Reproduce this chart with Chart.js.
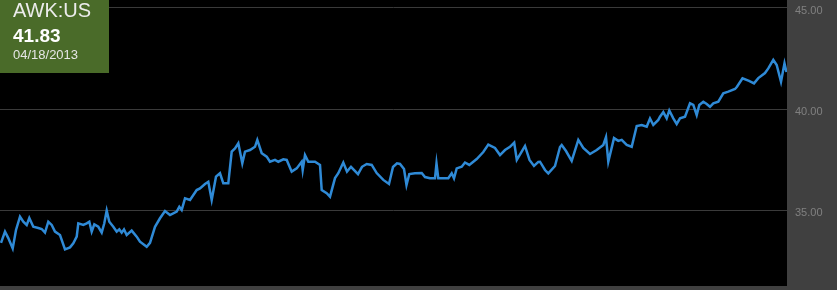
<!DOCTYPE html>
<html>
<head>
<meta charset="utf-8">
<script src="https://cdn.jsdelivr.net/npm/chart.js@4"></script>
<style>
  html, body { margin: 0; padding: 0; background: #404040; }
  #wrap { width: 837px; height: 290px; }
</style>
</head>
<body>
<div id="wrap"><canvas id="awk-chart" width="837" height="290"></canvas></div>
<script>
// time position of each sample along the year (trading session scale)
var sessions = [1,5,8.3,12.7,16,20,23.3,26.7,29.3,33.3,38.3,41.7,45,48.3,51.7,55,60,65,70,73.3,
  76.7,78.3,83.3,86.7,89.3,91.7,94.3,98.3,101.7,104.3,106.7,109.3,113.3,116.7,119.3,121.7,124,126.7,131.7,136.7,
  140,146.7,150,155,160,165,170,176.7,179.3,181.7,185,190,196.7,200,205,208.3,211.7,216,220,223.3,
  228.3,231.7,235,238.3,242.3,245,250,255,257.3,261.7,266.7,270,275,278.3,283.3,286.7,291.7,296.7,301.7,302.7,
  305,308.3,315,320,321.7,326.7,330,335,338.3,343.3,347,351,358,362,366.7,371.7,376.7,383.3,389,393,
  397,400,404,406.5,409.3,415,421.7,425,430,435,436.5,438.3,443.3,448.3,451.7,454,456.7,461.7,465,469.3,
  476.7,483.3,488.3,495,500,505,510,514.2,516.8,521.7,525,529.5,534,538.3,540,545,548.3,555,560,561.7,
  566,571.7,578.3,583.3,590,596.7,603.3,606,608.3,614,618.3,621.7,626.7,631.7,636.7,641.7,646.7,650,653.3,658.3,
  660,663.3,666.7,669.3,673.3,676.7,680,685,690,693.3,696.7,699.3,703.3,706.7,710,713.3,718.3,723.3,728.3,735,
  737,742.5,749,754,758.3,765,768.3,773.3,776.7,781,784.5,786.5];

var prices = [33.37,33.93,33.61,33.10,34.01,34.67,34.42,34.26,34.60,34.17,34.11,34.06,33.88,34.42,34.26,33.93,33.76,33.05,33.15,33.35,
  33.68,34.34,34.26,34.34,34.42,33.93,34.29,34.17,33.88,34.34,34.97,34.42,34.17,33.93,34.04,33.88,34.04,33.76,33.98,33.68,
  33.43,33.18,33.37,34.17,34.59,34.95,34.75,34.92,35.16,35.00,35.58,35.50,35.99,36.07,36.29,36.40,35.50,36.65,36.82,36.32,
  36.32,37.89,38.05,38.30,37.31,37.89,37.97,38.13,38.47,37.81,37.64,37.39,37.48,37.39,37.51,37.48,36.90,37.06,37.39,36.98,
  37.72,37.39,37.39,37.23,35.99,35.83,35.66,36.58,36.82,37.35,36.90,37.14,36.78,37.14,37.28,37.23,36.83,36.49,36.29,37.13,
  37.31,37.28,37.03,36.24,36.78,36.82,36.83,36.63,36.57,36.57,37.31,36.57,36.57,36.57,36.82,36.57,37.06,37.14,37.35,37.23,
  37.52,37.87,38.24,38.07,37.72,37.97,38.13,38.34,37.48,37.89,38.17,37.48,37.18,37.38,37.39,36.98,36.81,37.18,38.12,38.22,
  37.92,37.43,38.47,38.07,37.77,37.97,38.22,38.61,37.39,38.56,38.42,38.47,38.22,38.13,39.16,39.21,39.12,39.53,39.21,39.46,
  39.62,39.85,39.54,39.93,39.54,39.26,39.54,39.62,40.28,40.20,39.70,40.20,40.36,40.25,40.11,40.28,40.36,40.78,40.86,40.99,
  41.10,41.52,41.39,41.27,41.53,41.78,42.01,42.43,42.18,41.35,42.26,41.83];

var yTicks = [35, 40, 45];
var ticker = "AWK:US";
var lastPrice = "41.83";
var lastDate = "04/18/2013";

var points = sessions.map(function (t, i) { return { x: t, y: prices[i] }; });

var panelBg = {
  id: "panelBg",
  beforeDraw: function (chart) {
    var c = chart.ctx, a = chart.chartArea;
    c.save();
    c.fillStyle = "#404040";
    c.fillRect(0, 0, chart.width, chart.height);
    c.fillStyle = "#000000";
    c.fillRect(a.left, a.top, a.right - a.left, a.bottom - a.top);
    c.restore();
  },
  afterDraw: function (chart) {
    var c = chart.ctx;
    c.save();
    c.fillStyle = "#4a6b29";
    c.fillRect(0, 0, 109, 73);
    c.fillStyle = "#ececec";
    c.textBaseline = "alphabetic";
    c.font = "20px 'Liberation Sans', Arial, sans-serif";
    c.fillText(ticker, 13, 17);
    c.fillStyle = "#ffffff";
    c.font = "bold 19px 'Liberation Sans', Arial, sans-serif";
    c.fillText(lastPrice, 13, 42);
    c.fillStyle = "#e6e6e6";
    c.font = "13px 'Liberation Sans', Arial, sans-serif";
    c.fillText(lastDate, 13, 59);
    c.restore();
  }
};

var config = {
  type: "line",
  data: {
    datasets: [
      {
        label: ticker,
        data: points,
        borderColor: "#2f8ad6",
        borderWidth: 2.5,
        pointRadius: 0,
        tension: 0,
        fill: false
      }
    ]
  },
  options: {
    responsive: false,
    animation: false,
    layout: { padding: { left: 0, right: 0, top: 0, bottom: 4 } },
    plugins: { legend: { display: false }, tooltip: { enabled: false } },
    scales: {
      x: { type: "linear", min: 0, max: 787, display: false },
      y: {
        position: "right",
        min: 31.238,
        max: 45.396,
        afterBuildTicks: function (scale) {
          scale.ticks = yTicks.map(function (v) { return { value: v }; });
        },
        afterFit: function (scale) {
          scale.width = 50;
          scale.paddingTop = 0;
          scale.paddingBottom = 0;
        },
        border: { display: false },
        grid: { color: "#3a3a3a", lineWidth: 1, drawTicks: false },
        ticks: {
          color: "#808080",
          padding: 8,
          labelOffset: 3,
          font: { family: "'Liberation Sans', Arial, sans-serif", size: 11 },
          callback: function (v) { return Number(v).toFixed(2); }
        }
      }
    }
  },
  plugins: [panelBg]
};

window.onload = function () {
  var ctx = document.getElementById("awk-chart").getContext("2d");
  window.awkChart = new Chart(ctx, config);
};
</script>
</body>
</html>
